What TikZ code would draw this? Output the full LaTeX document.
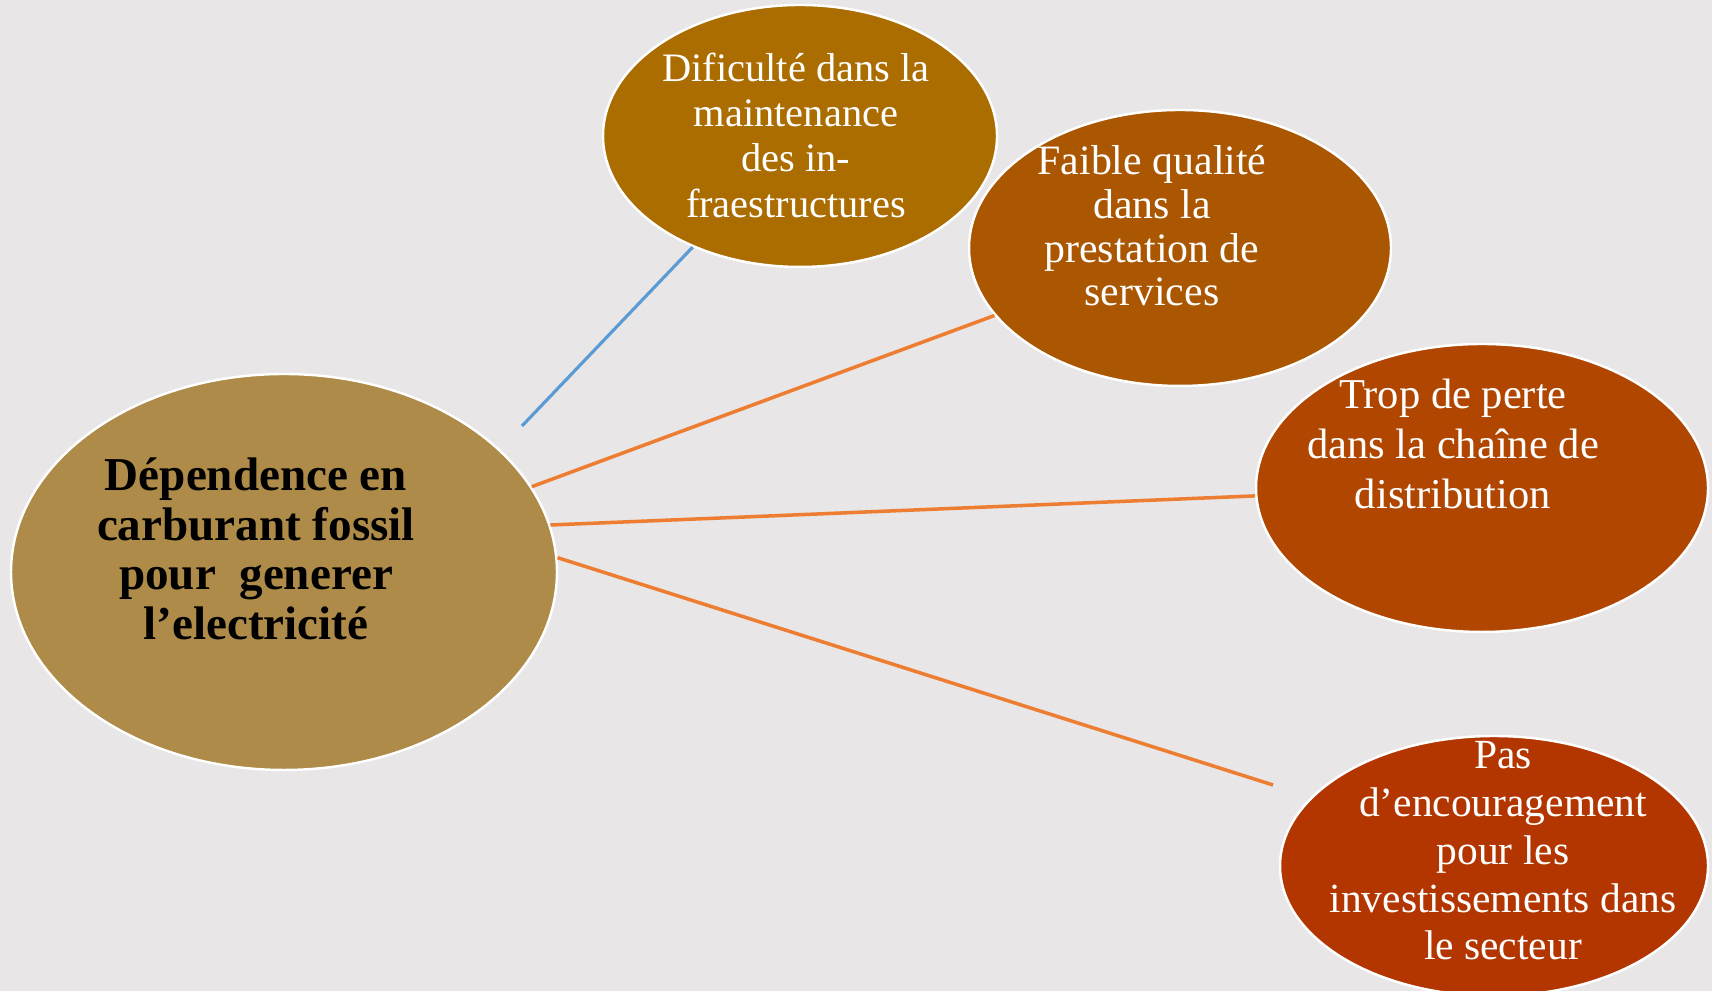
\documentclass[tikz,border=0pt]{standalone}
\usepackage{fontspec}
\setmainfont{Liberation Serif}
\usetikzlibrary{shapes.geometric}
\definecolor{bgcol}{RGB}{232,230,231}
\definecolor{depcol}{RGB}{174,139,72}
\definecolor{maintcol}{RGB}{171,108,0}
\definecolor{qualcol}{RGB}{171,86,0}
\definecolor{pertecol}{RGB}{176,70,0}
\definecolor{investcol}{RGB}{179,54,0}
\definecolor{bluelink}{RGB}{91,155,213}
\definecolor{orangelink}{RGB}{237,125,49}
\begin{document}
\begin{tikzpicture}[x=1cm,y=1cm,
  bubble/.style={ellipse,draw=white,line width=0.7pt,inner sep=0pt},
  wtext/.style={text=white,align=center,inner sep=0pt},
  link/.style={line width=1pt,orangelink}]
  \fill[bgcol] (0,0) rectangle (17.12,9.91);
  \useasboundingbox (0,0) rectangle (17.12,9.91);
  \node[bubble,fill=depcol,minimum width=5.46cm,minimum height=3.96cm] (dep) at (2.84,4.19) {};
  \node[bubble,fill=maintcol,minimum width=3.94cm,minimum height=2.62cm] (maint) at (8.00,8.55) {};
  \node[bubble,fill=qualcol,minimum width=4.22cm,minimum height=2.76cm] (qual) at (11.80,7.43) {};
  \node[bubble,fill=pertecol,minimum width=4.52cm,minimum height=2.88cm] (perte) at (14.82,5.03) {};
  \node[bubble,fill=investcol,minimum width=4.28cm,minimum height=2.60cm] (invest) at (14.94,1.25) {};
  \node[align=center,inner sep=0pt,font=\fontsize{13.4}{14.1}\selectfont\bfseries] (deptxt) at (2.56,4.42)
    {Dépendence en\\carburant fossil\\pour\ \ generer\\l’electricité};
  \node[wtext,font=\fontsize{11.5}{12.9}\selectfont] (mainttxt) at (7.96,8.56)
    {Dificulté dans la\\maintenance\\des in-\\fraestructures};
  \node[wtext,font=\fontsize{11.9}{12.4}\selectfont] (qualtxt) at (11.52,7.65)
    {Faible qualité\\dans la\\prestation de\\services};
  \node[wtext,font=\fontsize{12.1}{14.1}\selectfont] (pertetxt) at (14.53,5.47)
    {Trop de perte\\dans la chaîne de\\distribution};
  \node[wtext,font=\fontsize{11.8}{13.6}\selectfont] (investtxt) at (15.03,1.40)
    {Pas\\d’encouragement\\pour les\\investissements dans\\le secteur};
  \coordinate (bluefree) at (5.22,5.65);
  \coordinate (investfree) at (12.73,2.06);
  \draw[line width=0.9pt,bluelink] (bluefree) -- (maint.226);
  \draw[link] (dep.19) -- (qual.200);
  \draw[link] (dep.10) -- (perte.182);
  \draw[link] (dep.3) -- (investfree);
\end{tikzpicture}
\end{document}
